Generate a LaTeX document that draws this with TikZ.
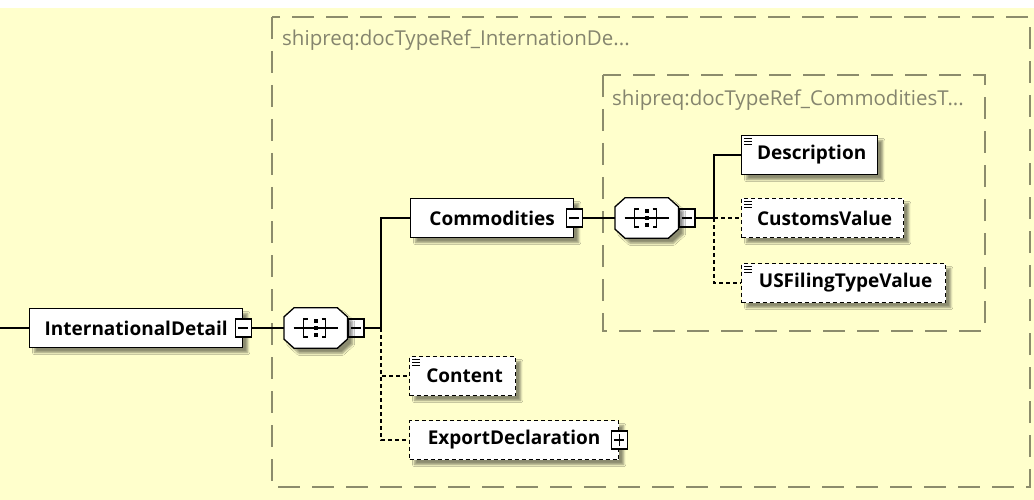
\documentclass[tikz,border=0pt]{standalone}
\usepackage{fontspec}
\setmainfont{Open Sans}
\usepackage{tikz}
\usetikzlibrary{positioning, calc, shadows.blur}
\definecolor{canvas}{HTML}{FFFFCC}
\definecolor{frameline}{HTML}{8C8C6C}
\definecolor{framelabel}{HTML}{85856E}
\newcommand{\seqglyph}[1]{%
  \draw[seqline, blur shadow={shadow xshift=5pt, shadow yshift=-5pt,
                              shadow blur steps=5, shadow opacity=45}]
    ($(#1.north west)+(10,0)$) -- ($(#1.north east)+(-10,0)$)
    -- ($(#1.north east)+(0,9)$) -- ($(#1.south east)+(0,-9)$)
    -- ($(#1.south east)+(-10,0)$) -- ($(#1.south west)+(10,0)$)
    -- ($(#1.south west)+(0,-9)$) -- ($(#1.north west)+(0,9)$) -- cycle;
  \draw[line width=1.2pt] ([xshift=-22pt]#1.center) -- ([xshift=22pt]#1.center);
  \draw[line width=1.2pt] ([xshift=-8pt,yshift=9pt]#1.center) -- ++(-4,0) -- ++(0,18) -- ++(4,0);
  \draw[line width=1.2pt] ([xshift=6pt,yshift=9pt]#1.center) -- ++(4,0) -- ++(0,18) -- ++(-4,0);
  \foreach \dy in {-7,0,7}
    \fill ($(#1.center)+(-2,\dy-2)$) rectangle ++(4,4);
}
\newcommand{\simpleicon}[1]{%
  \foreach \dy in {4,7,10}
    \draw[line width=0.9pt] ($(#1.north west)+(3,\dy)$) -- ++(8,0);
}

\begin{document}
\begin{tikzpicture}[
    x=1pt, y=-1pt,
    every node/.style={font=\fontsize{19}{22}\selectfont},
    elem/.style={rectangle, draw=black, fill=white, line width=1.3pt,
                 minimum height=39pt, inner xsep=0pt,
                 font=\fontsize{19}{22}\selectfont\bfseries,
                 blur shadow={shadow xshift=5pt, shadow yshift=-5pt,
                              shadow blur steps=5, shadow opacity=45}},
    optelem/.style={elem, dash pattern=on 4pt off 3pt},
    seqnode/.style={rectangle, minimum width=63pt, minimum height=40pt,
                    inner sep=0pt},
    seqline/.style={draw=black, fill=white, line width=1.3pt},
    togglebox/.style={rectangle, draw=black, fill=white, line width=1.1pt,
                      minimum width=16pt, minimum height=18pt, inner sep=0pt,
                      path picture={\draw[line width=1.1pt]
                        ([xshift=3pt]path picture bounding box.west) --
                        ([xshift=-3pt]path picture bounding box.east);}},
    plusbox/.style={togglebox,
                    path picture={\draw[line width=1.1pt]
                        ([xshift=3pt]path picture bounding box.west) --
                        ([xshift=-3pt]path picture bounding box.east)
                        ([yshift=-3pt]path picture bounding box.north) --
                        ([yshift=3pt]path picture bounding box.south);}},
    link/.style={line width=1.3pt, black},
    optlink/.style={link, dash pattern=on 4pt off 3pt},
    frame/.style={draw=frameline, line width=1.3pt, dash pattern=on 22pt off 12pt},
    framelbl/.style={text=framelabel, anchor=west, inner sep=0pt,
                     font=\fontsize{20.5}{24}\selectfont}
]

\useasboundingbox (0,0) rectangle (1034,500);
\fill[canvas] (0,8) rectangle (1034,500);

% group boxes
\draw[frame] (272,17) rectangle (1030,487);
\node[framelbl] (outerLbl) at (282,40) {shipreq:docTypeRef\_InternationDe...};
\draw[frame] (603,75) rectangle (985,331);
\node[framelbl] (innerLbl) at (612,100) {shipreq:docTypeRef\_CommoditiesT...};

% elements
\coordinate (entry) at (0,328);
\node[elem, minimum width=213pt, anchor=west] (intl) at (29,328)
     {InternationalDetail\hspace{8pt}};
\node[togglebox] (intlT) at (intl.east) {};

\node[seqnode, anchor=west] (seqA) at (284,328) {};
\node[togglebox, right=0pt of seqA] (seqAT) {};
\coordinate (forkA) at (381,328);

\node[elem, minimum width=163pt, anchor=west] (comm) at (410,218)
     {Commodities\hspace{8pt}};
\node[togglebox] (commT) at (comm.east) {};

\node[seqnode, anchor=west] (seqB) at (615,218) {};
\node[togglebox, right=0pt of seqB] (seqBT) {};
\coordinate (forkB) at (714,218);

\node[elem, minimum width=136pt, anchor=west] (desc) at (741,155)
     {\hspace{4pt}Description};
\node[optelem, minimum width=162pt, anchor=west] (custval) at (741,218)
     {\hspace{4pt}CustomsValue};
\node[optelem, minimum width=204pt, anchor=west] (usfil) at (741,283)
     {\hspace{4pt}USFilingTypeValue};

\node[optelem, minimum width=106pt, anchor=west] (content) at (409,376)
     {\hspace{4pt}Content};
\node[optelem, minimum width=209pt, anchor=west] (export) at (409,440)
     {ExportDeclaration\hspace{12pt}};
\node[plusbox] (exportT) at (export.east) {};

\seqglyph{seqA}
\seqglyph{seqB}
\simpleicon{desc}
\simpleicon{custval}
\simpleicon{usfil}
\simpleicon{content}

% connectors
\draw[link] (entry) -- (intl.west);
\draw[link] (intlT.east) -- (seqA.west);
\draw[link] (seqAT.east) -- (forkA) |- (comm.west);
\draw[optlink] (forkA) |- (content.west);
\draw[optlink] (forkA) |- (export.west);
\draw[link] (commT.east) -- (seqB.west);
\draw[link] (seqBT.east) -- (forkB) |- (desc.west);
\draw[optlink] (forkB) -- (custval.west);
\draw[optlink] (forkB) |- (usfil.west);

\end{tikzpicture}
\end{document}
